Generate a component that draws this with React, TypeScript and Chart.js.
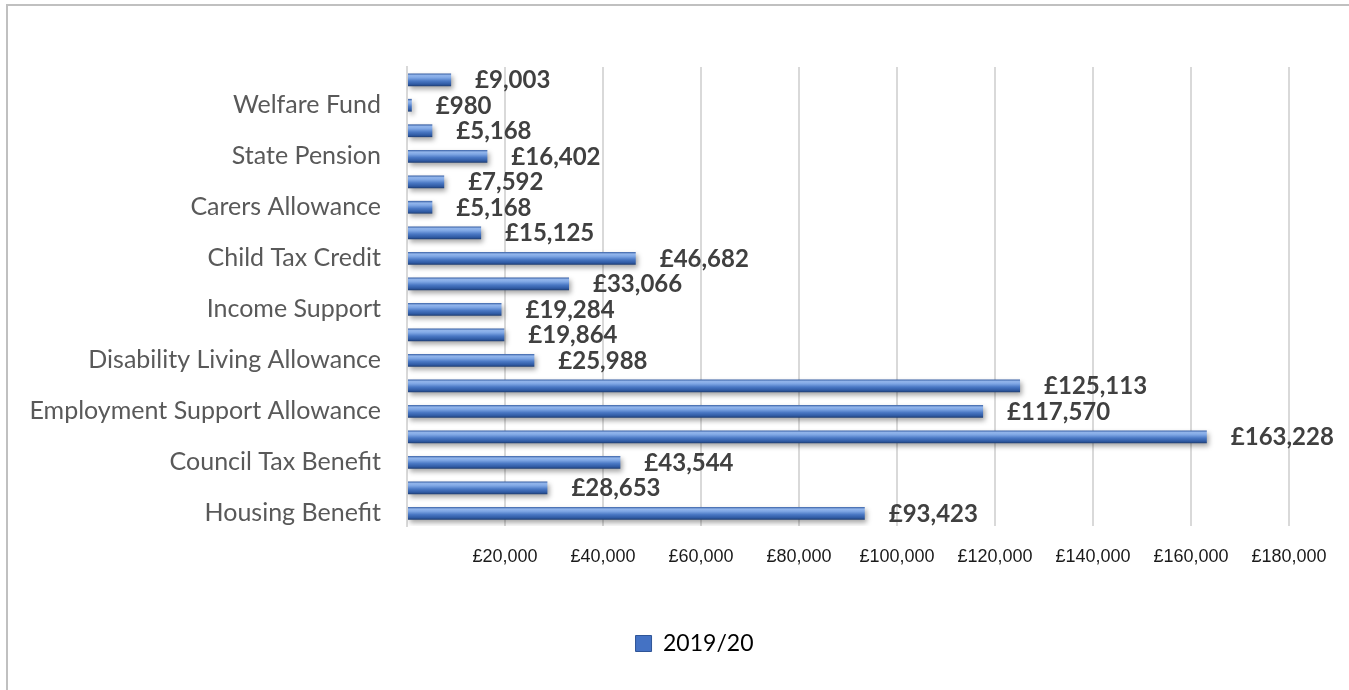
import React, { useEffect, useRef } from "react";
import { Chart, registerables } from "chart.js";

Chart.register(...registerables);

const categories: string[] = [
  "",
  "Welfare Fund",
  "",
  "State Pension",
  "",
  "Carers Allowance",
  "",
  "Child Tax Credit",
  "",
  "Income Support",
  "",
  "Disability Living Allowance",
  "",
  "Employment Support Allowance",
  "",
  "Council Tax Benefit",
  "",
  "Housing Benefit",
];

const values2019: number[] = [
  9003, 980, 5168, 16402, 7592, 5168, 15125, 46682, 33066, 19284, 19864, 25988,
  125113, 117570, 163228, 43544, 28653, 93423,
];

const seriesLabel = "2019/20";
const xMin = 0;
const xMax = 180000;
const xStep = 20000;

const fmt = (v: number) => "£" + v.toLocaleString("en-GB");

export default function App() {
  const ref = useRef<HTMLCanvasElement | null>(null);

  useEffect(() => {
    const canvas = ref.current;
    if (!canvas) return;

    const barGradient = (ctx: any) => {
      const chart = ctx.chart;
      const ys = chart.scales && chart.scales.y;
      if (!ys || ctx.type !== "data") return "#4472c4";
      const cy = ys.getPixelForValue(ctx.dataIndex);
      const h = 13;
      const g = chart.ctx.createLinearGradient(0, cy - h / 2, 0, cy + h / 2);
      g.addColorStop(0, "#2e569c");
      g.addColorStop(0.18, "#93b6ec");
      g.addColorStop(0.35, "#7ea6e4");
      g.addColorStop(0.6, "#4a78c4");
      g.addColorStop(0.85, "#2f5aa3");
      g.addColorStop(1, "#1e3c70");
      return g;
    };

    const shadowAndLabels = {
      id: "shadowAndLabels",
      beforeDraw(chart: any) {
        const lg = chart.legend;
        if (lg && !lg._shifted) {
          lg.left += 50;
          lg.right += 50;
          lg._shifted = true;
        }
      },
      beforeDatasetsDraw(chart: any) {
        const c = chart.ctx;
        c.save();
        c.shadowColor = "rgba(0,0,0,0.35)";
        c.shadowBlur = 5;
        c.shadowOffsetX = 2;
        c.shadowOffsetY = 3;
      },
      afterDatasetsDraw(chart: any) {
        const c = chart.ctx;
        c.restore();
        const meta = chart.getDatasetMeta(0);
        const data = chart.data.datasets[0].data as number[];
        c.save();
        c.font = "bold 24px Lato";
        c.fillStyle = "#404040";
        c.textAlign = "left";
        c.textBaseline = "middle";
        meta.data.forEach((el: any, i: number) => {
          c.fillText(fmt(data[i]), el.x + 24, el.y + 1);
        });
        c.restore();
      },
    };

    const chart = new Chart(canvas, {
      type: "bar",
      data: {
        labels: categories,
        datasets: [
          {
            label: seriesLabel,
            data: values2019,
            backgroundColor: barGradient as any,
            borderWidth: 0,
            barPercentage: 0.5,
            categoryPercentage: 1,
          },
        ],
      },
      options: {
        indexAxis: "y",
        responsive: false,
        animation: false,
        layout: { padding: { top: 67, left: 0, right: 60, bottom: 25 } },
        scales: {
          x: {
            min: xMin,
            max: xMax,
            ticks: {
              stepSize: xStep,
              color: "#1a1a1a",
              font: { family: "Liberation Sans", size: 18 },
              padding: 20,
              callback: (v: any) => (Number(v) === 0 ? "" : fmt(Number(v))),
            },
            grid: { color: "#d9d9d9", lineWidth: 2, drawTicks: false },
            border: { display: false },
            afterFit: (s: any) => {
              s.height = 96;
            },
          },
          y: {
            ticks: {
              color: "#595959",
              font: { family: "Lato", size: 25 },
              padding: 26,
              autoSkip: false,
            },
            grid: { display: false, drawTicks: false },
            border: { display: true, color: "#d9d9d9", width: 2 },
            afterFit: (s: any) => {
              s.width = 407;
            },
          },
        },
        plugins: {
          tooltip: { enabled: false },
          legend: {
            position: "bottom",
            labels: {
              color: "#595959",
              font: { family: "Lato", size: 23 },
              boxWidth: 16,
              boxHeight: 16,
              padding: 10,
              generateLabels: () => [
                {
                  text: seriesLabel,
                  fillStyle: "#4472c4",
                  strokeStyle: "#2f5597",
                  lineWidth: 1,
                  hidden: false,
                  datasetIndex: 0,
                } as any,
              ],
            },
          },
        },
      },
      plugins: [shadowAndLabels],
    });

    return () => chart.destroy();
  }, []);

  return (
    <div
      style={{
        position: "fixed",
        left: 0,
        top: 0,
        width: 1349,
        height: 690,
        overflow: "hidden",
        background: "#fff",
      }}
    >
      <div
        style={{
          position: "absolute",
          left: 6,
          top: 4,
          width: 1400,
          height: 800,
          border: "2px solid #c0c0c0",
          boxSizing: "border-box",
        }}
      />
      <canvas
        ref={ref}
        width={1349}
        height={690}
        style={{ position: "absolute", left: 0, top: 0, width: 1349, height: 690 }}
      />
    </div>
  );
}
